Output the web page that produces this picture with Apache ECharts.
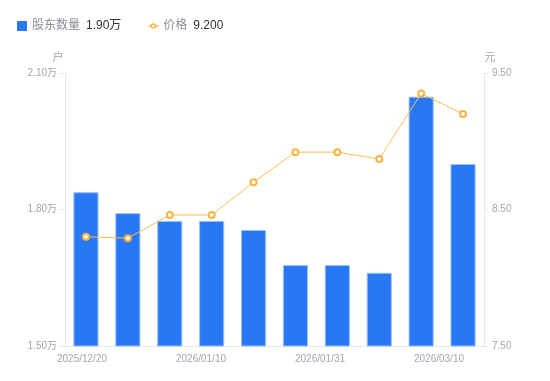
<!DOCTYPE html>
<html>
<head>
<meta charset="utf-8">
<script src="https://cdn.jsdelivr.net/npm/echarts@6/dist/echarts.min.js"></script>
<style>
html,body{margin:0;padding:0;background:#fff;}
#chart{width:550px;height:381px;}
</style>
</head>
<body>
<div id="chart"></div>
<script>
var dates = ['2025/12/20','2025/12/27','2026/01/03','2026/01/10','2026/01/17','2026/01/24','2026/01/31','2026/02/10','2026/02/28','2026/03/10'];
var holders = [1.838, 1.792, 1.775, 1.775, 1.755, 1.678, 1.678, 1.661, 2.048, 1.90];
var prices = [8.30, 8.29, 8.46, 8.46, 8.70, 8.92, 8.92, 8.87, 9.35, 9.20];
var tickLabels = ['2025/12/20','2026/01/10','2026/01/31','2026/03/10'];
var holderTicks = [1.50, 1.80, 2.10];
var priceTicks = [7.50, 8.50, 9.50];

var labelColor = '#a3a6b0';
var lineColor = '#e6e6e6';
var font = '"Liberation Sans", "Noto Sans CJK SC", sans-serif';
var lastHolder = holders[holders.length - 1].toFixed(2) + '万';
var lastPrice = prices[prices.length - 1].toFixed(3);
var lineIcon = 'path://M0,4.3 H2.4 V5.7 H0 Z M7.6,4.3 H10 V5.7 H7.6 Z ' +
  'M2.2,5 A2.8,2.8 0 1,0 7.8,5 A2.8,2.8 0 1,0 2.2,5 Z ' +
  'M3.7,5 A1.3,1.3 0 1,1 6.3,5 A1.3,1.3 0 1,1 3.7,5 Z';

var chart = echarts.init(document.getElementById('chart'));
chart.setOption({
  animation: false,
  textStyle: {fontFamily: font},
  legend: {
    left: 12, top: 15,
    itemWidth: 10, itemHeight: 10, itemGap: 27,
    symbolKeepAspect: true,
    data: [
      {name: '股东数量', icon: 'rect', itemStyle: {borderWidth: 0}},
      {name: '价格', icon: lineIcon, itemStyle: {color: '#fcb240', borderWidth: 0}}
    ],
    formatter: function (n) {
      return '{a|' + n + '}{b|' + (n === '价格' ? lastPrice : lastHolder) + '}';
    },
    textStyle: {
      rich: {
        a: {fontSize: 12, color: '#8a8d96', fontFamily: font},
        b: {fontSize: 12, color: '#333333', padding: [0, 0, 0, 6], fontFamily: font}
      }
    }
  },
  grid: [
    {left: 65, right: 66, top: 73, bottom: 35},
    {left: 82, right: 111, top: 73, bottom: 35, show: false}
  ],
  xAxis: [
    {
      type: 'category', gridIndex: 0, data: dates,
      axisLine: {lineStyle: {color: lineColor}},
      axisTick: {show: false},
      axisLabel: {show: false}
    },
    {
      type: 'category', gridIndex: 1, data: tickLabels, boundaryGap: false,
      axisLine: {show: false}, axisTick: {show: false},
      axisLabel: {color: labelColor, fontSize: 10, margin: 8, interval: 0}
    }
  ],
  yAxis: [
    {
      type: 'value', gridIndex: 0, name: '户',
      min: holderTicks[0], max: holderTicks[2], interval: holderTicks[1] - holderTicks[0],
      nameGap: 10,
      nameTextStyle: {color: labelColor, fontSize: 11, padding: [0, 14, 0, 0]},
      axisLine: {show: true, lineStyle: {color: lineColor}},
      axisTick: {show: true, length: 5, lineStyle: {color: lineColor}},
      splitLine: {show: false},
      axisLabel: {color: labelColor, fontSize: 10, formatter: function (v) { return v.toFixed(2) + '万'; }}
    },
    {
      type: 'value', gridIndex: 0, name: '元', position: 'right',
      min: priceTicks[0], max: priceTicks[2], interval: priceTicks[1] - priceTicks[0],
      nameGap: 10,
      nameTextStyle: {color: labelColor, fontSize: 11, padding: [0, 0, 0, 12]},
      axisLine: {show: true, lineStyle: {color: lineColor}},
      axisTick: {show: true, length: 4, lineStyle: {color: lineColor}},
      splitLine: {show: false},
      axisLabel: {color: labelColor, fontSize: 10, formatter: function (v) { return v.toFixed(2); }}
    },
    {type: 'value', gridIndex: 1, show: false}
  ],
  series: [
    {
      name: '股东数量', type: 'bar', xAxisIndex: 0, yAxisIndex: 0,
      data: holders, barWidth: '60%',
      itemStyle: {color: '#2878f5', borderColor: '#9cc0fa', borderWidth: 1}
    },
    {
      name: '价格', type: 'line', xAxisIndex: 0, yAxisIndex: 1,
      data: prices, symbol: 'emptyCircle', symbolSize: 6,
      lineStyle: {color: '#fcbc52', width: 1},
      itemStyle: {color: '#fcb240', borderWidth: 2}
    }
  ]
});
</script>
</body>
</html>
